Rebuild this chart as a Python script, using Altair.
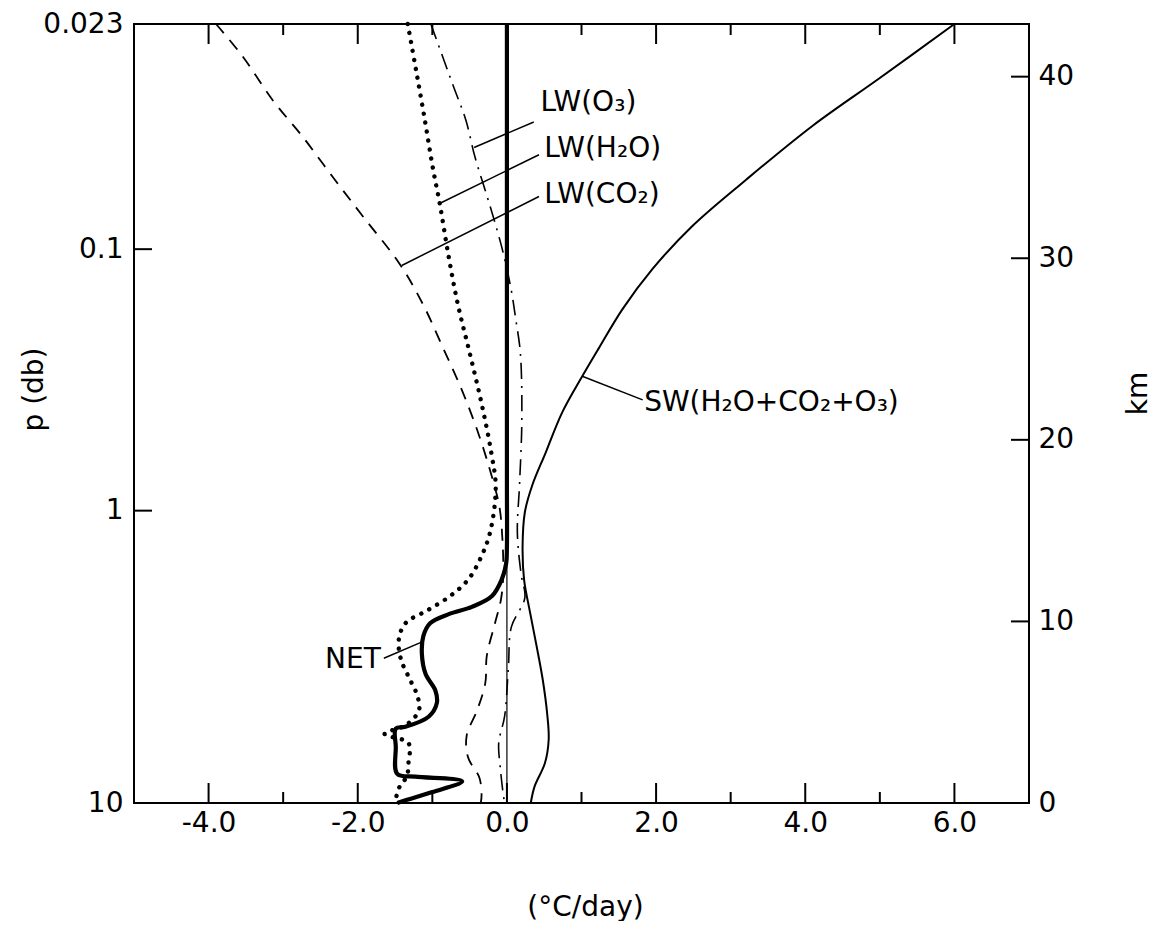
import altair as alt
import pandas as pd

# ---- data (x in degC/day, height in km) ----
sw_km = [42.9, 39.9, 37.3, 34.3, 31.75, 29.4, 27.2, 25.1, 23.5, 21.5, 19.3, 17.5, 16.0, 14.1, 12.3, 10.5, 8.6, 6.8, 4.9, 3.5, 2.2, 0.9, 0.0]
sw_x = [6.0, 4.99, 4.10, 3.20, 2.48, 1.95, 1.55, 1.24, 1.01, 0.74, 0.52, 0.34, 0.24, 0.21, 0.23, 0.31, 0.40, 0.48, 0.54, 0.56, 0.51, 0.37, 0.32]

o3_km = [42.9, 39.5, 37.6, 35.6, 33.6, 32.1, 30.3, 28.2, 26.6, 24.8, 21.1, 17.6, 14.9, 12.6, 11.3, 9.7, 7.5, 4.8, 3.3, 2.0, 0.5, 0.0]
o3_x = [-1.02, -0.72, -0.55, -0.43, -0.28, -0.17, -0.05, 0.06, 0.12, 0.18, 0.20, 0.17, 0.14, 0.19, 0.24, 0.06, 0.02, -0.03, -0.11, -0.09, -0.05, -0.03]

h2o_km = [42.9, 40.4, 37.6, 34.9, 33.0, 30.3, 27.5, 24.8, 22.0, 19.3, 17.4, 15.0, 13.6, 12.3, 11.4, 10.6, 9.9, 9.0, 7.9, 6.8, 5.9, 5.1, 4.3, 3.8, 3.3, 2.2, 1.5, 0.8, 0.0]
h2o_x = [-1.33, -1.22, -1.10, -0.99, -0.90, -0.79, -0.66, -0.50, -0.34, -0.21, -0.15, -0.22, -0.34, -0.52, -0.76, -1.07, -1.36, -1.45, -1.42, -1.30, -1.20, -1.18, -1.35, -1.64, -1.32, -1.32, -1.34, -1.45, -1.50]

co2_km = [42.9, 41.1, 38.7, 36.7, 34.5, 32.3, 29.7, 27.5, 25.1, 22.6, 20.2, 17.8, 16.3, 14.5, 12.5, 11.2, 9.9, 8.1, 6.6, 5.1, 3.7, 2.5, 1.4, 0.5, 0.0]
co2_x = [-3.90, -3.54, -3.14, -2.74, -2.34, -1.93, -1.44, -1.13, -0.86, -0.59, -0.37, -0.19, -0.10, -0.06, -0.05, -0.08, -0.16, -0.27, -0.29, -0.40, -0.54, -0.52, -0.37, -0.34, -0.35]

net_km = [42.9, 17.8, 14.1, 13.2, 12.3, 11.4, 10.8, 10.4, 9.9, 9.2, 8.2, 7.1, 6.2, 5.5, 4.75, 4.2, 4.1, 3.1, 1.6, 1.45, 1.2, 0.6, 0.15, 0.0]
net_x = [0.0, 0.0, 0.0, -0.01, -0.07, -0.2, -0.47, -0.78, -1.03, -1.12, -1.14, -1.09, -0.96, -0.94, -1.05, -1.36, -1.49, -1.49, -1.47, -1.23, -0.60, -1.0, -1.36, -1.47]

# axis ticks / labels
p_labels = ["10", "1", "0.1", "0.023"]
p_levels_km = [0.0, 16.1, 30.5, 42.9]
km_ticks = [0, 10, 20, 30, 40]
x_major = [-4, -2, 0, 2, 4, 6]
x_minor = [-3, -1, 1, 3, 5]

# annotations (data coordinates)
ann_text = ["LW(O₃)", "LW(H₂O)", "LW(CO₂)", "SW(H₂O+CO₂+O₃)"]
ann_x = [0.45, 0.50, 0.50, 1.84]
ann_km = [38.55, 36.0, 33.46, 22.05]
lead_x1 = [-0.44, -0.91, -1.41, 1.01, -1.65]
lead_km1 = [36.1, 33.0, 29.6, 23.5, 7.97]
lead_x2 = [0.36, 0.43, 0.43, 1.82, -1.16]
lead_km2 = [37.5, 35.7, 33.4, 22.2, 8.83]
net_label = ["NET"]
net_label_x = [-1.69]
net_label_km = [7.9]

# ---- chart ----
W, H = 895, 779
FONT = "DejaVu Sans"
FS = 28
xs = alt.Scale(domain=[-5, 7], nice=False, zero=False)
ys = alt.Scale(domain=[0, 42.9], nice=False, zero=False)


def sdf(xv, kv):
    return pd.DataFrame({"x": xv, "km": kv, "i": list(range(len(xv)))})


def line(df, **mk):
    return alt.Chart(df).mark_line(color="black", interpolate="catmull-rom", **mk).encode(
        x=alt.X("x:Q", scale=xs, axis=None),
        y=alt.Y("km:Q", scale=ys, axis=None),
        order="i:Q",
    )


zero = alt.Chart(pd.DataFrame({"x": [0]})).mark_rule(color="black", strokeWidth=1.2).encode(
    x=alt.X("x:Q", scale=xs, axis=None)
)

sw = line(sdf(sw_x, sw_km), strokeWidth=2)
o3 = line(sdf(o3_x, o3_km), strokeWidth=1.6, strokeDash=[16, 7, 2, 7])
h2o = line(sdf(h2o_x, h2o_km), strokeWidth=4.4, strokeDash=[0.1, 9], strokeCap="round")
co2 = line(sdf(co2_x, co2_km), strokeWidth=1.8, strokeDash=[12, 9])
net = line(sdf(net_x, net_km), strokeWidth=4.2)

# left pressure axis with inward ticks
p_expr = " : ".join(
    [f"datum.value == {k} ? '{lab}'" for k, lab in zip(p_levels_km, p_labels)]
) + " : ''"
left_ticks = alt.Chart(pd.DataFrame({"v": p_levels_km[1:3]})).mark_rule(
    color="black", strokeWidth=2
).encode(
    y=alt.Y(
        "v:Q",
        scale=ys,
        axis=alt.Axis(
            orient="left", values=p_levels_km, labelExpr=p_expr, ticks=False, tickSize=0,
            domain=False, grid=False, labelPadding=11, labelFontSize=FS, labelFont=FONT,
            labelColor="black", labelBaseline="middle",
            title="p  (db)", titleFont=FONT, titleFontSize=FS, titleFontWeight="normal",
            titleColor="black", titleAngle=270, titleX=-100, titleY=365,
            titleAlign="center", titleBaseline="middle",
        ),
    ),
    x=alt.value(0),
    x2=alt.value(18),
)

# right km axis with inward ticks
right_ticks = alt.Chart(pd.DataFrame({"v": km_ticks[1:]})).mark_rule(
    color="black", strokeWidth=2
).encode(
    y=alt.Y(
        "v:Q",
        scale=ys,
        axis=alt.Axis(
            orient="right", values=km_ticks, format="d", ticks=False, tickSize=0,
            domain=False, grid=False, labelPadding=9, labelFontSize=FS, labelFont=FONT,
            labelColor="black", labelBaseline="middle",
            title="km", titleFont=FONT, titleFontSize=FS, titleFontWeight="normal",
            titleColor="black", titleAngle=270, titleX=109, titleY=369,
            titleAlign="center", titleBaseline="middle",
        ),
    ),
    x=alt.value(W),
    x2=alt.value(W - 18),
)

# bottom axis (labels) + inward ticks
x_expr = "(datum.value < 0 ? '-' : '') + format(abs(datum.value), '.1f')"
bottom_major = alt.Chart(pd.DataFrame({"v": x_major})).mark_rule(color="black", strokeWidth=2).encode(
    x=alt.X(
        "v:Q",
        scale=xs,
        axis=alt.Axis(
            orient="bottom", values=x_major, labelExpr=x_expr, ticks=False, tickSize=0,
            domain=False, grid=False, labelPadding=6, labelFontSize=FS, labelFont=FONT,
            labelColor="black",
            title="(°C/day)", titleFont=FONT, titleFontSize=FS, titleFontWeight="normal",
            titleColor="black", titleX=451, titleY=104,
            titleAlign="center", titleBaseline="middle",
        ),
    ),
    y=alt.value(H),
    y2=alt.value(H - 20),
)
bottom_minor = alt.Chart(pd.DataFrame({"v": x_minor})).mark_rule(color="black", strokeWidth=2).encode(
    x=alt.X("v:Q", scale=xs, axis=None), y=alt.value(H), y2=alt.value(H - 11)
)
top_major = alt.Chart(pd.DataFrame({"v": x_major})).mark_rule(color="black", strokeWidth=2).encode(
    x=alt.X("v:Q", scale=xs, axis=None), y=alt.value(0), y2=alt.value(20)
)
top_minor = alt.Chart(pd.DataFrame({"v": x_minor})).mark_rule(color="black", strokeWidth=2).encode(
    x=alt.X("v:Q", scale=xs, axis=None), y=alt.value(0), y2=alt.value(11)
)

# annotations
lead_df = pd.DataFrame({"x1": lead_x1, "k1": lead_km1, "x2": lead_x2, "k2": lead_km2})
leaders = alt.Chart(lead_df).mark_rule(color="black", strokeWidth=1.5).encode(
    x=alt.X("x1:Q", scale=xs, axis=None),
    y=alt.Y("k1:Q", scale=ys, axis=None),
    x2="x2:Q",
    y2="k2:Q",
)
ann_df = pd.DataFrame({"t": ann_text, "x": ann_x, "km": ann_km})
ann = alt.Chart(ann_df).mark_text(
    align="left", baseline="middle", font=FONT, fontSize=FS, color="black"
).encode(
    x=alt.X("x:Q", scale=xs, axis=None),
    y=alt.Y("km:Q", scale=ys, axis=None),
    text="t:N",
)
net_df = pd.DataFrame({"t": net_label, "x": net_label_x, "km": net_label_km})
net_txt = alt.Chart(net_df).mark_text(
    align="right", baseline="middle", font=FONT, fontSize=FS, color="black"
).encode(
    x=alt.X("x:Q", scale=xs, axis=None),
    y=alt.Y("km:Q", scale=ys, axis=None),
    text="t:N",
)

chart = alt.layer(
    left_ticks, right_ticks, bottom_major, bottom_minor, top_major, top_minor,
    zero, co2, h2o, o3, sw, net, leaders, ann, net_txt,
).resolve_axis(y="independent", x="independent").properties(
    width=W,
    height=H,
    padding={"left": 126, "top": 16, "right": 123, "bottom": 118},
    autosize=alt.AutoSizeParams(type="none"),
    background="white",
).configure_view(stroke="black", strokeWidth=2)

chart.save("out.html", embed_options={"renderer": "svg", "actions": False})
